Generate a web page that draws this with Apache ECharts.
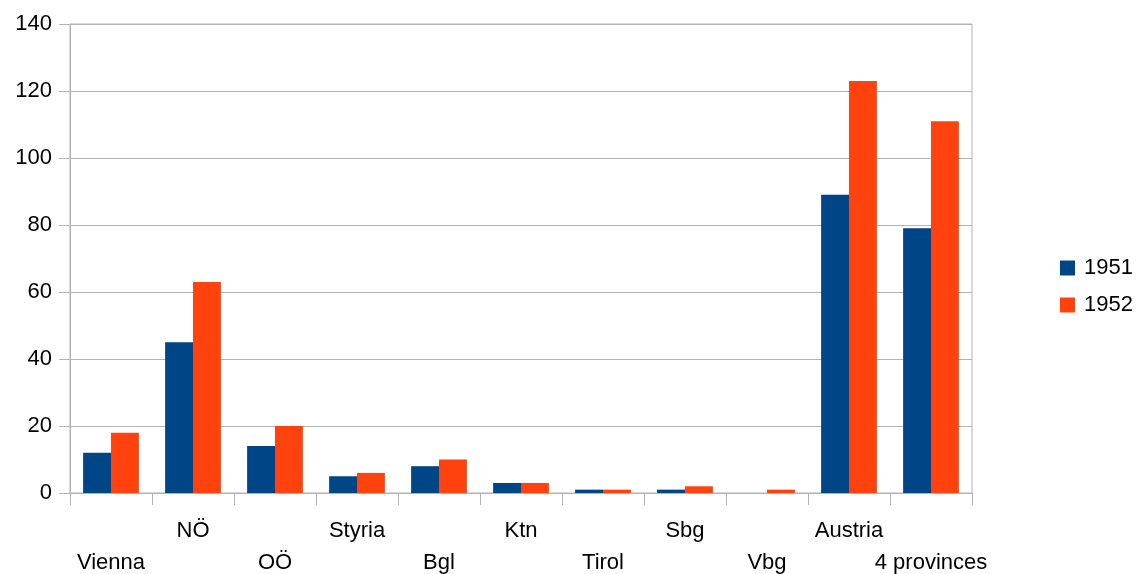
<!DOCTYPE html>
<html>
<head>
<meta charset="utf-8">
<script src="https://cdn.jsdelivr.net/npm/echarts@6/dist/echarts.min.js"></script>
<style>
  html, body { margin: 0; padding: 0; background: #fff; }
  #chart { width: 1138px; height: 574px; }
</style>
</head>
<body>
<div id="chart"></div>
<script>
// Regions and the two yearly series
const categories = ['Vienna', 'NÖ', 'OÖ', 'Styria', 'Bgl', 'Ktn', 'Tirol', 'Sbg', 'Vbg', 'Austria', '4 provinces'];
const values1951 = [12, 45, 14, 5, 8, 3, 1, 1, 0, 89, 79];
const values1952 = [18, 63, 20, 6, 10, 3, 1, 2, 1, 123, 111];
const seriesNames = ['1951', '1952'];
const yTicks = { min: 0, max: 140, interval: 20 };

const axisGray = '#b3b3b3';
const font = '"Liberation Sans", Arial, sans-serif';
const labelSize = 22;

const chart = echarts.init(document.getElementById('chart'), null, { renderer: 'canvas' });
chart.setOption({
  animation: false,
  textStyle: { fontFamily: font },
  grid: {
    left: 70, right: 166, top: 24, bottom: 81,
    containLabel: false,
    outerBoundsMode: 'none',
    show: true, borderColor: axisGray, borderWidth: 1
  },
  legend: {
    orient: 'vertical',
    left: 1055,
    top: 252,
    itemWidth: 15,
    itemHeight: 15,
    itemGap: 15,
    icon: 'rect',
    textStyle: { fontSize: labelSize, color: '#000', fontFamily: font, padding: [0, 0, 0, 4] },
    data: seriesNames
  },
  xAxis: {
    type: 'category',
    data: categories,
    axisLine: { lineStyle: { color: axisGray, width: 1 } },
    axisTick: { show: true, length: 12, lineStyle: { color: axisGray } },
    axisLabel: {
      interval: 0,
      margin: 22,
      fontSize: labelSize,
      color: '#000',
      fontFamily: font,
      lineHeight: 32,
      verticalAlign: 'top',
      // Staggered labels: every other name drops to the second row
      formatter: (v, i) => (i % 2 === 0 ? '\n' + v : v)
    },
    splitLine: { show: false }
  },
  yAxis: {
    type: 'value',
    min: yTicks.min,
    max: yTicks.max,
    interval: yTicks.interval,
    axisLine: { show: true, lineStyle: { color: axisGray, width: 1 } },
    axisTick: { show: true, length: 11, lineStyle: { color: axisGray } },
    axisLabel: { fontSize: labelSize, color: '#000', margin: 18, fontFamily: font },
    splitLine: { show: true, lineStyle: { color: axisGray, width: 1 } }
  },
  series: [
    {
      name: seriesNames[0],
      type: 'bar',
      data: values1951,
      itemStyle: { color: '#004586' },
      barGap: '0%',
      barCategoryGap: '32%'
    },
    {
      name: seriesNames[1],
      type: 'bar',
      data: values1952,
      itemStyle: { color: '#ff420e' },
      barGap: '0%',
      barCategoryGap: '32%'
    }
  ]
});
</script>
</body>
</html>
